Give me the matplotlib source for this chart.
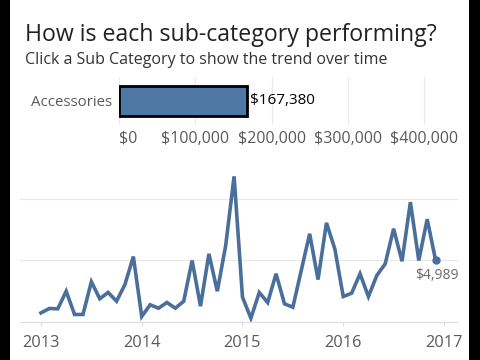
import matplotlib.pyplot as plt
import matplotlib.ticker as mticker

plt.rcParams['font.family'] = ['Open Sans', 'DejaVu Sans']

# bar: total sales for selected sub-category
subcat = ["Accessories"]
subcat_sales = [167380]
bar_ticks = [0, 100000, 200000, 300000, 400000]

# monthly sales, Jan 2013 .. Dec 2016
months = list(range(48))
sales = [700, 1060, 1030, 2460, 570, 570, 3230, 1850, 2360, 1650, 3010, 5280,
         410, 1360, 1080, 1545, 1080, 1650, 4960, 1245, 5500, 2460, 6180, 11800,
         1980, 270, 2360, 1545, 3880, 1440, 1160, 4150, 7130, 3410, 8020, 5900,
         2030, 2300, 3880, 2030, 3740, 4690, 7540, 4900, 9700, 4960, 8320, 4989]
year_pos = [0, 12, 24, 36, 48]
year_labels = ["2013", "2014", "2015", "2016", "2017"]

W, H = 480, 360
blue = "#4e79a7"
line_blue = "#4a6f9b"
grey_txt = "#5a5a5a"
grid_c = "#e8e8e8"

fig = plt.figure(figsize=(4.8, 3.6), dpi=100)
fig.patch.set_facecolor("black")

# white panel between the black borders
panel = fig.add_axes([10 / W, 0, (469 - 10) / W, 1])
panel.set_facecolor("white")
panel.set_xticks([])
panel.set_yticks([])
for s in panel.spines.values():
    s.set_visible(False)

fig.text(25 / W, 1 - 41 / H, "How is each sub-category performing?", fontsize=16.7,
         color="#222222", va="baseline", ha="left")
fig.text(25 / W, 1 - 64 / H, "Click a Sub Category to show the trend over time", fontsize=11.5,
         color="#333333", va="baseline", ha="left")

# bar chart
ax1 = fig.add_axes([119 / W, 1 - 125 / H, (455 - 119) / W, 48 / H])
ax1.barh(subcat, subcat_sales, height=0.64, color=blue, edgecolor="black", linewidth=2)
ax1.set_xlim(0, 440000)
ax1.set_ylim(-0.5, 0.5)
ax1.set_xticks(bar_ticks)
ax1.xaxis.set_major_formatter(mticker.FuncFormatter(lambda v, p: "${:,.0f}".format(v)))
ax1.tick_params(axis="x", length=0, labelsize=11.5, labelcolor=grey_txt, pad=4)
ax1.tick_params(axis="y", length=0, labelsize=10.8, labelcolor=grey_txt, pad=5)
ax1.grid(axis="x", color=grid_c, linewidth=0.8)
ax1.set_axisbelow(True)
for s in ax1.spines.values():
    s.set_visible(False)
ax1.get_xticklabels()[0].set_horizontalalignment("left")
for v in subcat_sales:
    ax1.text(v + 4500, 0, "${:,.0f}".format(v), va="center", ha="left", fontsize=11, color="black")

# line chart
ax2 = fig.add_axes([20 / W, 1 - 321.5 / H, (458 - 20) / W, (321.5 - 165) / H])
ax2.plot(months, sales, color=line_blue, linewidth=2.6, solid_joinstyle="miter")
ax2.plot(months[-1], sales[-1], "o", color=line_blue, markersize=5)
ax2.text(months[-1] + 0.1, sales[-1] - 600, "${:,.0f}".format(sales[-1]), ha="center", va="top",
         fontsize=10, color="#6a6a6a")
ax2.set_xlim(-2.5, 49.67)
ax2.set_ylim(0, (321.5 - 165) / 12.3 * 1000)
ax2.set_yticks([0, 5000, 10000])
ax2.set_yticklabels([])
ax2.tick_params(axis="y", length=0)
ax2.grid(axis="y", color=grid_c, linewidth=0.8)
ax2.set_axisbelow(True)
ax2.set_xticks(year_pos)
ax2.set_xticklabels(year_labels)
ax2.tick_params(axis="x", length=3, color="#dddddd", labelsize=11.8, labelcolor=grey_txt, pad=7)
for s in ["top", "right", "left"]:
    ax2.spines[s].set_visible(False)
ax2.spines["bottom"].set_color("#dddddd")
ax2.patch.set_alpha(0)

fig.savefig("out.png", dpi=100, facecolor=fig.get_facecolor())
